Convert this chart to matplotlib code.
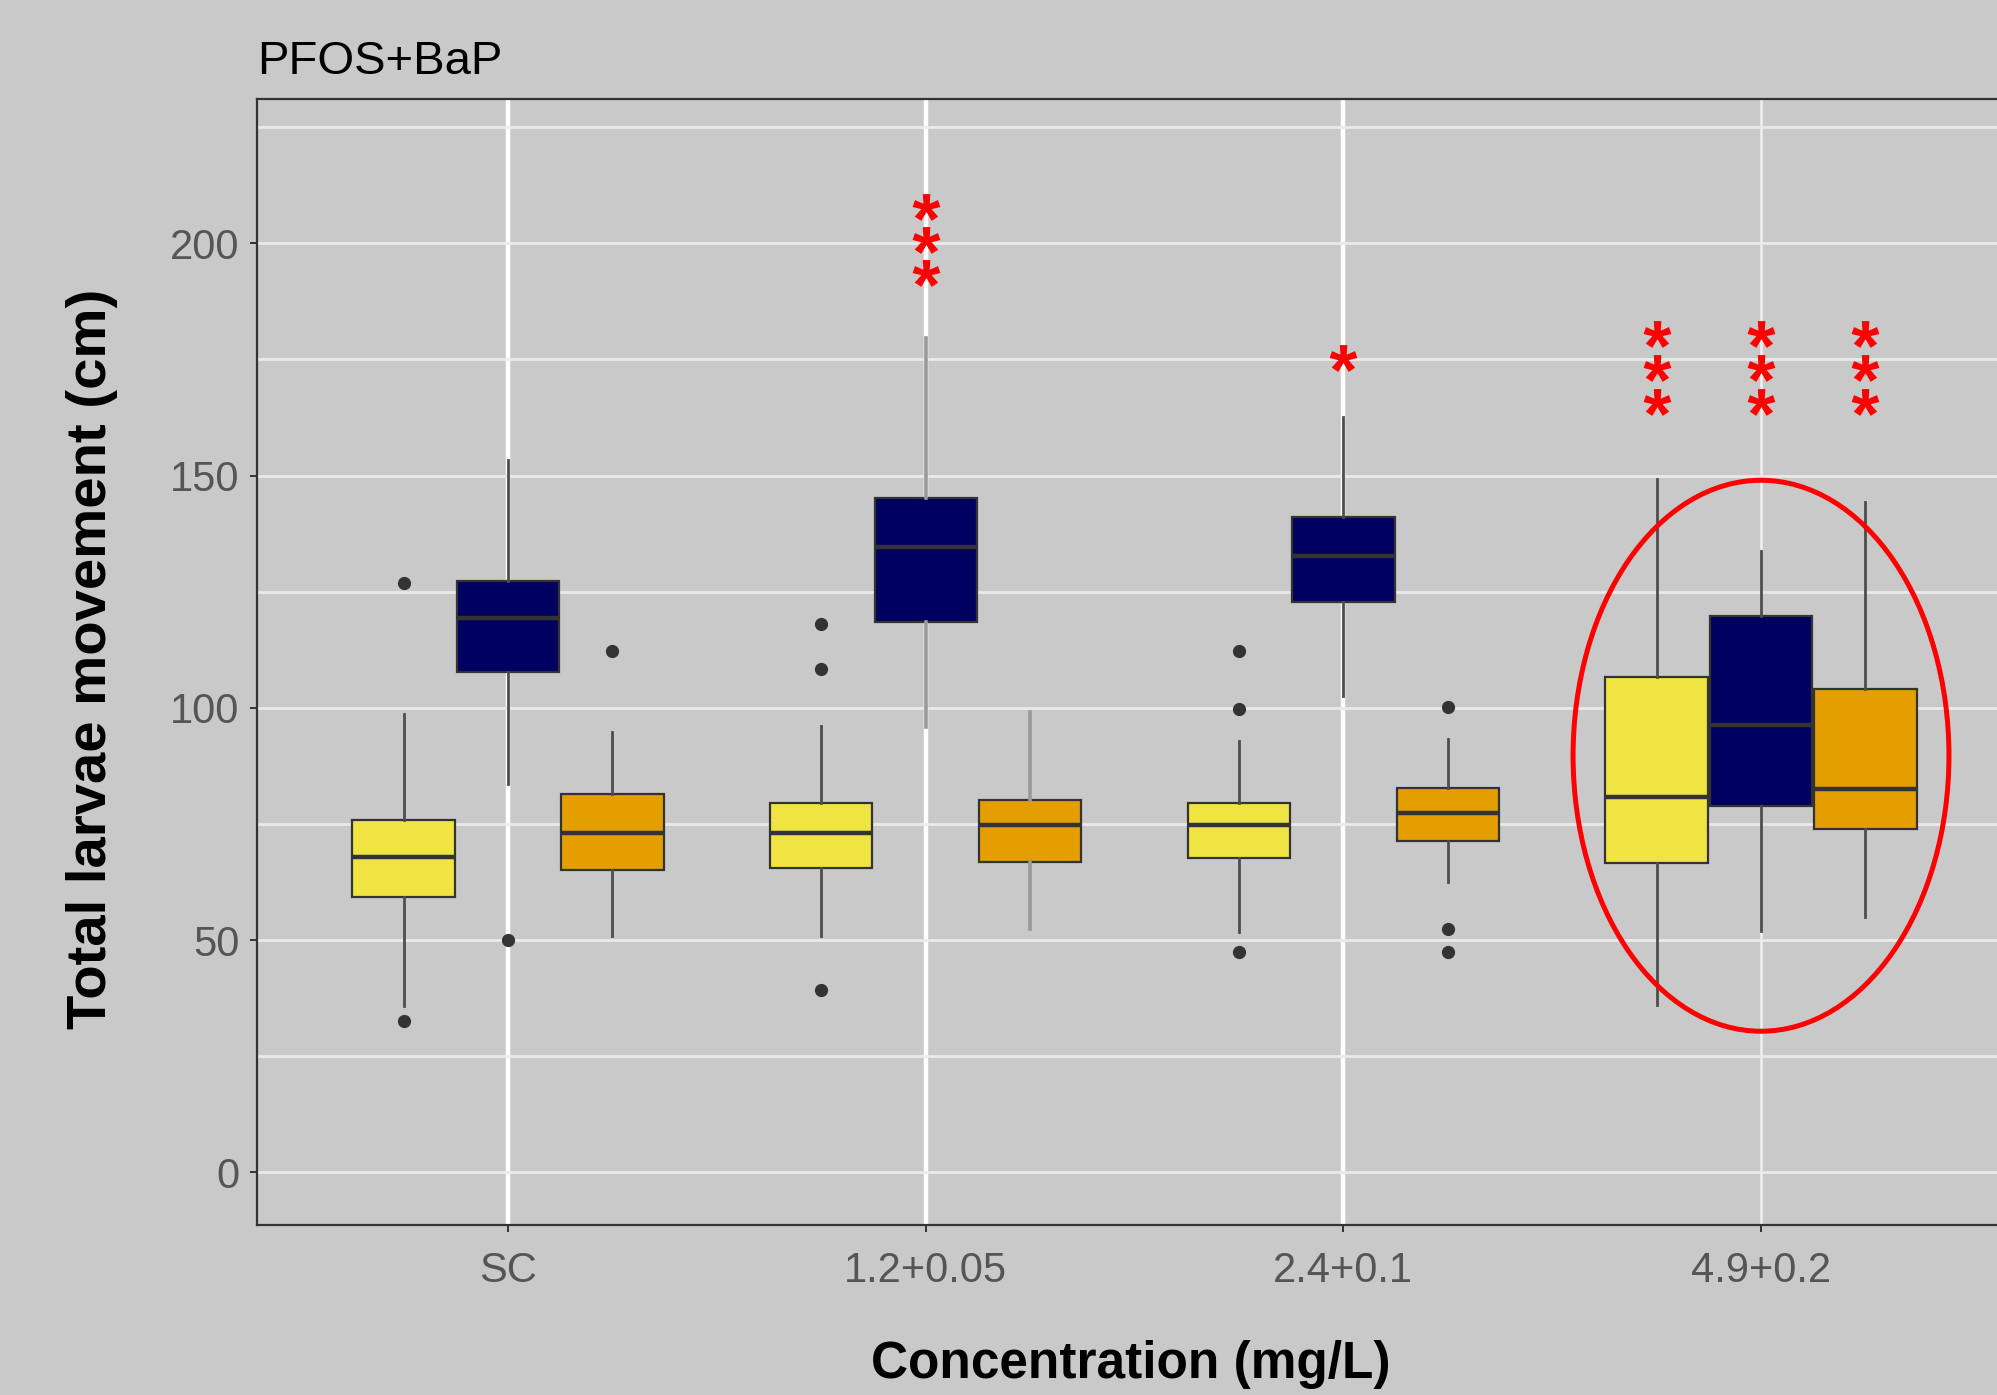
import numpy as np
import matplotlib.pyplot as plt
from matplotlib.patches import Ellipse
from matplotlib.textpath import TextPath
from matplotlib.font_manager import FontProperties
from matplotlib.path import Path

plt.rcParams['font.family'] = ['Liberation Sans', 'DejaVu Sans']

# data (cm)
groups = ['SC', '1.2+0.05', '2.4+0.1', '4.9+0.2']
series = ['yellow', 'blue', 'orange']
colors = ['#EFE442', '#000060', '#E49E00']

# [group][series]
q1 = [[59.4, 107.7, 65.1], [65.6, 118.4, 66.8], [67.6, 122.7, 71.3], [66.6, 78.9, 74.0]]
med = [[67.9, 119.4, 73.0], [73.0, 134.6, 74.8], [74.8, 132.7, 77.3], [80.8, 96.4, 82.6]]
q3 = [[75.9, 127.3, 81.5], [79.6, 145.1, 80.2], [79.5, 141.1, 82.7], [106.6, 119.8, 104.0]]
whislo = [[35.9, 83.7, 51.0], [51.0, 95.9, 52.3], [51.7, 102.5, 62.5], [36.0, 51.9, 54.9]]
whishi = [[98.6, 153.3, 94.9], [96.1, 179.7, 99.1], [92.8, 162.7, 93.4], [149.3, 133.7, 144.3]]
fliers = [[[126.8, 32.6], [50.1], [112.2]],
          [[118.0, 108.4, 39.3], [], []],
          [[112.2, 99.7, 47.5], [], [100.3, 52.5, 47.5]],
          [[], [], []]]

# significance stars: (group, series, y)
sig_group = [1, 1, 1, 2, 3, 3, 3, 3, 3, 3, 3, 3, 3]
sig_series = [1, 1, 1, 1, 0, 0, 0, 1, 1, 1, 2, 2, 2]
sig_y = [207.9, 200.8, 193.7, 175.3, 180.5, 173.2, 165.8, 180.5, 173.2, 165.8, 180.5, 173.2, 165.8]

bg = '#C9C9C9'
grid_c = '#EAEAEA'
dark = '#333333'

fig = plt.figure(figsize=(19.97, 13.95), dpi=100, facecolor=bg)
ax = fig.add_axes([0.1289, 0.1219, 0.8711, 0.8069])
ax.set_facecolor(bg)

offsets = [-0.25, 0.0, 0.25]
bw = 0.245
for g in range(len(groups)):
    for s in range(len(series)):
        st = [dict(q1=q1[g][s], med=med[g][s], q3=q3[g][s],
                   whislo=whislo[g][s], whishi=whishi[g][s], fliers=fliers[g][s])]
        light = (g == 1 and s > 0)
        ax.bxp(st, positions=[g + offsets[s]], widths=bw, showcaps=False,
               patch_artist=True,
               boxprops=dict(facecolor=colors[s], edgecolor=dark, linewidth=1.6),
               medianprops=dict(color=dark, linewidth=3.2),
               whiskerprops=dict(color='#999999' if light else '#4D4D4D',
                                 linewidth=2.6 if light else 2.0),
               flierprops=dict(marker='o', markerfacecolor=dark, markeredgecolor=dark,
                               markersize=8.5),
               zorder=3)

# grid
ax.set_yticks([0, 50, 100, 150, 200])
ax.set_yticks([25, 75, 125, 175, 225], minor=True)
ax.set_xticks(range(len(groups)))
ax.set_xticklabels(groups)
ax.grid(True, axis='y', which='both', color=grid_c, linewidth=2.0, zorder=0)
ax.set_axisbelow(True)
vw = [3.2, 3.2, 3.2, 1.8]
for i in range(len(groups)):
    ax.axvline(i, color='white' if i < 3 else '#F0F0F0', linewidth=vw[i], zorder=0.5)

ax.set_xlim(-0.6, 3.565)
ax.set_ylim(-11.3, 231)

# stars: bold asterisk glyph turned into a centred marker
tp = TextPath((0, 0), '*', prop=FontProperties(family='Liberation Sans', weight='bold'))
polys = tp.to_polygons()
allv = np.vstack(polys)
cx = (allv[:, 0].min() + allv[:, 0].max()) / 2
cy = (allv[:, 1].min() + allv[:, 1].max()) / 2
star = Path.make_compound_path(*[Path(p - [cx, cy], closed=True) for p in polys])
sx = [sig_group[k] + offsets[sig_series[k]] for k in range(len(sig_y))]
ax.plot(sx, sig_y, linestyle='none', marker=star, markersize=20, color='red',
        markeredgewidth=0, zorder=5)

# highlight ellipse
ax.add_patch(Ellipse((3, 89.7), 0.9, 118.6, fill=False, edgecolor='red', linewidth=3.6, zorder=6))

for side in ['left', 'bottom', 'top']:
    ax.spines[side].set_color(dark)
    ax.spines[side].set_linewidth(1.6)
ax.spines['right'].set_visible(False)
ax.tick_params(axis='both', which='major', length=5, width=1.4, color=dark,
               labelsize=30, labelcolor='#555555')
ax.tick_params(axis='y', pad=8)
ax.tick_params(axis='x', pad=14)
ax.tick_params(which='minor', length=0)

fig.text(0.1289, 0.947, 'PFOS+BaP', fontsize=34, color='black', ha='left', va='baseline')
fig.text(0.566, 0.022, 'Concentration (mg/L)', fontsize=37, fontweight='bold',
         ha='center', va='center')
fig.text(0.046, 0.528, 'Total larvae movement (cm)', fontsize=40.5, fontweight='bold',
         rotation=90, ha='center', va='center')

plt.savefig('out.png', dpi=100, facecolor=bg)
